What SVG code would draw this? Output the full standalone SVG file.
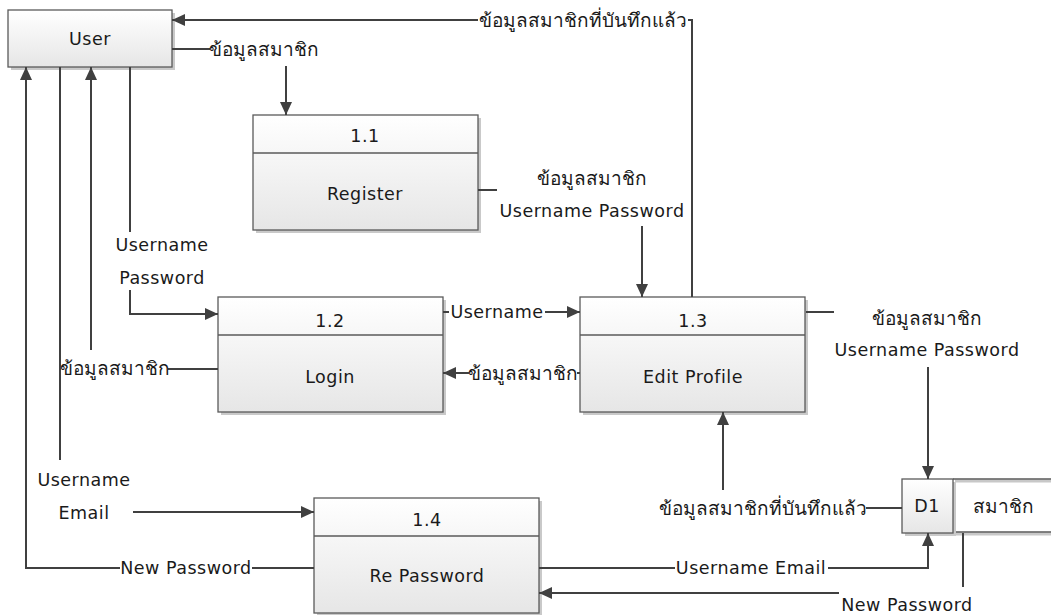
<svg xmlns="http://www.w3.org/2000/svg" width="1051" height="615" viewBox="0 0 1051 615">
<style>
text{font-family:"DejaVu Sans","Noto Sans",sans-serif;font-size:17.5px;letter-spacing:0.5px;fill:#1a1a1a;text-anchor:middle;dominant-baseline:central}
text.th{font-size:19px;letter-spacing:0}
.box{fill:url(#g);stroke:#5a5a5a;stroke-width:1.3}
.sh{fill:#c9c9c9}
.div{stroke:#5a5a5a;stroke-width:1.3}
.c{fill:none;stroke:#404040;stroke-width:2}
.a{marker-end:url(#ah)}
</style>
<defs>
<linearGradient id="g" x1="0" y1="0" x2="0" y2="1"><stop offset="0" stop-color="#ffffff"/><stop offset="1" stop-color="#e6e6e6"/></linearGradient>
<marker id="ah" markerUnits="userSpaceOnUse" markerWidth="14" markerHeight="12" refX="13" refY="6" orient="auto"><path d="M0,0 L13,6 L0,12 z" fill="#404040"/></marker>
</defs>
<rect width="1051" height="615" fill="#ffffff"/>
<g id="user">
<rect class="sh" x="11" y="13" width="164" height="57"/>
<rect class="box" x="8" y="10" width="164" height="57"/>
<text x="90" y="39">User</text>
</g>
<g id="p11">
<rect class="sh" x="256" y="118" width="225" height="115"/>
<rect class="box" x="253" y="115" width="225" height="115"/>
<line class="div" x1="253" y1="153" x2="478" y2="153"/>
<text x="365" y="136">1.1</text>
<text x="365" y="194">Register</text>
</g>
<g id="p12">
<rect class="sh" x="221" y="300" width="225" height="115"/>
<rect class="box" x="218" y="297" width="225" height="115"/>
<line class="div" x1="218" y1="335" x2="443" y2="335"/>
<text x="330" y="321">1.2</text>
<text x="330" y="377">Login</text>
</g>
<g id="p13">
<rect class="sh" x="583" y="300" width="225" height="115"/>
<rect class="box" x="580" y="297" width="225" height="115"/>
<line class="div" x1="580" y1="335" x2="805" y2="335"/>
<text x="693" y="321">1.3</text>
<text x="693" y="377">Edit Profile</text>
</g>
<g id="p14">
<rect class="sh" x="317" y="501" width="225" height="115"/>
<rect class="box" x="314" y="498" width="225" height="115"/>
<line class="div" x1="314" y1="536" x2="539" y2="536"/>
<text x="427" y="520">1.4</text>
<text x="427" y="576">Re Password</text>
</g>
<g id="d1">
<path d="M953,479 H1051 M953,532 H1051" stroke="#c8c8c8" stroke-width="3" fill="none" transform="translate(2,2)"/>
<path d="M953,479 H1051 M953,532 H1051" stroke="#5a5a5a" stroke-width="1.3" fill="none"/>
<rect class="sh" x="905" y="482" width="51" height="54"/>
<rect class="box" x="902" y="479" width="51" height="54"/>
<text x="927" y="506">D1</text>
<text class="th" x="1003" y="506">สมาชิก</text>
</g>
<g id="connectors">
<path class="c" d="M172,49 H210"/>
<text class="th" x="264" y="49">ข้อมูลสมาชิก</text>
<path class="c a" d="M286,66 V115"/>
<path class="c" d="M692,297 V20 H688"/>
<text class="th" x="583" y="20">ข้อมูลสมาชิกที่บันทึกแล้ว</text>
<path class="c a" d="M478,20 H172"/>
<path class="c" d="M478,190 H497"/>
<text class="th" x="592" y="178">ข้อมูลสมาชิก</text>
<text x="592" y="211">Username Password</text>
<path class="c a" d="M642,226 V297"/>
<path class="c" d="M130,67 V232"/>
<text x="162" y="245">Username</text>
<text x="162" y="278">Password</text>
<path class="c a" d="M130,290 V314 H218"/>
<path class="c" d="M218,369 H168"/>
<text class="th" x="115" y="368">ข้อมูลสมาชิก</text>
<path class="c a" d="M91,350 V67"/>
<path class="c" d="M443,312 H449"/>
<text x="497" y="312">Username</text>
<path class="c a" d="M545,312 H580"/>
<path class="c" d="M580,373 H577"/>
<text class="th" x="523" y="373">ข้อมูลสมาชิก</text>
<path class="c a" d="M469,373 H443"/>
<path class="c" d="M60,67 V460"/>
<text x="84" y="480">Username</text>
<text x="84" y="513">Email</text>
<path class="c a" d="M133,512 H314"/>
<path class="c" d="M314,568 H252"/>
<text x="186" y="568">New Password</text>
<path class="c a" d="M120,568 H26 V67"/>
<path class="c" d="M539,568 H675"/>
<text x="751" y="568">Username Email</text>
<path class="c a" d="M828,568 H928 V533"/>
<path class="c" d="M902,508 H866"/>
<text class="th" x="763" y="508">ข้อมูลสมาชิกที่บันทึกแล้ว</text>
<path class="c a" d="M723,490 V412"/>
<path class="c" d="M806,312 H834"/>
<text class="th" x="927" y="318">ข้อมูลสมาชิก</text>
<text x="927" y="350">Username Password</text>
<path class="c a" d="M928,367 V479"/>
<path class="c" d="M963,533 V587"/>
<text x="907" y="605">New Password</text>
<path class="c a" d="M839,593 H539"/>
</g>
</svg>
